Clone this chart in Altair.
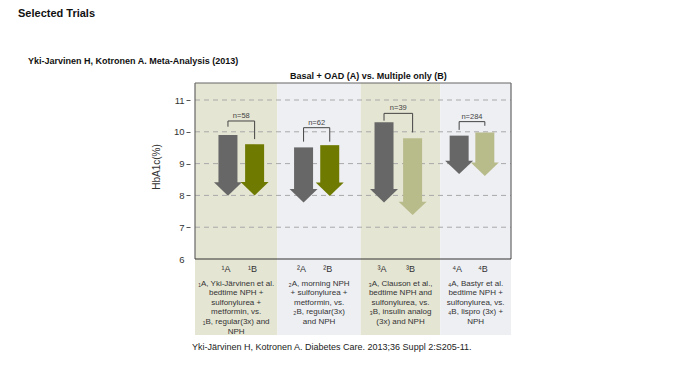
import altair as alt
import pandas as pd

# ---------------- data ----------------
panels = [1, 2, 3, 4]
a_labels = ["¹A", "²A", "³A", "⁴A"]
b_labels = ["¹B", "²B", "³B", "⁴B"]
a_start = [9.90, 9.51, 10.30, 9.88]
a_end = [7.99, 7.78, 7.78, 8.67]
b_start = [9.61, 9.58, 9.80, 9.98]
b_end = [8.00, 7.98, 7.38, 8.61]
b_shade = ["dark", "dark", "light", "light"]
n_values = [58, 62, 39, 284]
bracket_top = [10.34, 10.13, 10.58, 10.32]
bracket_a_end = [10.16, 9.69, 10.35, 10.06]
bracket_b_end = [9.77, 9.69, 9.98, 10.19]
descriptions = [
    "₁A, Yki-Järvinen et al.\nbedtime NPH +\nsulfonylurea +\nmetformin, vs.\n₁B, regular(3x) and\nNPH",
    "₂A, morning NPH\n+ sulfonylurea +\nmetformin, vs.\n₂B, regular(3x)\nand NPH",
    "₃A, Clauson et al.,\nbedtime NPH and\nsulfonylurea, vs.\n₃B, insulin analog\n(3x) and NPH",
    "₄A, Bastyr et al.\nbedtime NPH +\nsulfonylurea, vs.\n₄B, lispro (3x) +\nNPH",
]
y_ticks = [6, 7, 8, 9, 10, 11]
grid_values = [7, 8, 9, 10, 11]

# ---------------- layout ----------------
FONT = "Liberation Sans"
W, H = 326, 252
Y_MIN, Y_MAX = 3.61, 11.535
X_MAX = 326
panel_edges = [0, 85, 171, 253, 326]
a_x = [34, 112, 195, 272.5]
b_x = [61.5, 139, 224.5, 299]
bg_fill = ["#e5e5d3", "#eeeff3", "#e5e5d3", "#eeeff3"]

xs = alt.Scale(domain=[0, X_MAX], nice=False, zero=False)
ys = alt.Scale(domain=[Y_MIN, Y_MAX], nice=False, zero=False)
yaxis = alt.Axis(
    values=y_ticks, grid=False, domain=False, ticks=True, tickSize=4,
    tickColor="#555555", tickOpacity=alt.expr("datum.value == 6 ? 0 : 1"),
    labelFont=FONT, labelFontSize=9.5,
    labelColor="#333333", labelPadding=2, title=None)


def Y(field):
    return alt.Y(field, scale=ys, axis=yaxis)


def X(field):
    return alt.X(field, scale=xs, axis=None)


# backgrounds
bg_df = pd.DataFrame({
    "x0": panel_edges[:-1], "x1": panel_edges[1:],
    "y0": [Y_MIN] * 4, "y1": [Y_MAX] * 4, "fill": bg_fill,
})
bg = alt.Chart(bg_df).mark_rect().encode(
    x=X("x0:Q"), x2="x1:Q", y=Y("y0:Q"), y2="y1:Q",
    fill=alt.Fill("fill:N", scale=None),
)

# grid lines
grid_df = pd.DataFrame({"y": grid_values, "x0": [0] * 5, "x1": [X_MAX] * 5})
grid = alt.Chart(grid_df).mark_rule(color="#a9a9a9", strokeDash=[5, 4], strokeWidth=1).encode(
    x=X("x0:Q"), x2="x1:Q", y=Y("y:Q"),
)

# frame
frame_df = pd.DataFrame({
    "x0": [0, X_MAX, 0, 0], "x1": [0, X_MAX, X_MAX, X_MAX],
    "y0": [6, 6, Y_MAX, 6], "y1": [Y_MAX, Y_MAX, Y_MAX, 6],
    "c": ["#666666", "#666666", "#666666", "#333333"],
})
frame = alt.Chart(frame_df).mark_rule(strokeWidth=1.2).encode(
    x=X("x0:Q"), x2="x1:Q", y=Y("y0:Q"), y2="y1:Q",
    color=alt.Color("c:N", scale=None),
)

# arrows
arr_df = pd.DataFrame({
    "x": a_x + b_x,
    "start": a_start + b_start,
    "end": a_end + b_end,
    "kind": ["A"] * 4 + ["B-" + s for s in b_shade],
})
cscale = alt.Scale(domain=["A", "B-dark", "B-light"], range=["#676767", "#6f7a00", "#b8bb8a"])
shaft = alt.Chart(arr_df).mark_bar(width=19, y2Offset=-12).encode(
    x=X("x:Q"), y=Y("start:Q"), y2="end:Q",
    color=alt.Color("kind:N", scale=cscale, legend=None),
)
head = alt.Chart(arr_df).mark_point(
    shape="M-1,-0.96L1,-0.96L0,0Z", size=784, filled=True, opacity=1, strokeWidth=0
).encode(
    x=X("x:Q"), y=Y("end:Q"),
    color=alt.Color("kind:N", scale=cscale, legend=None),
)

# brackets
br_rows = []
for i in range(4):
    br_rows.append({"x0": a_x[i], "x1": b_x[i], "y0": bracket_top[i], "y1": bracket_top[i]})
    br_rows.append({"x0": a_x[i], "x1": a_x[i], "y0": bracket_a_end[i], "y1": bracket_top[i]})
    br_rows.append({"x0": b_x[i], "x1": b_x[i], "y0": bracket_b_end[i], "y1": bracket_top[i]})
br_df = pd.DataFrame(br_rows)
brackets = alt.Chart(br_df).mark_rule(color="#444444", strokeWidth=1).encode(
    x=X("x0:Q"), x2="x1:Q", y=Y("y0:Q"), y2="y1:Q",
)
n_df = pd.DataFrame({
    "x": [(a + b) / 2 for a, b in zip(a_x, b_x)],
    "y": bracket_top,
    "t": [f"n={n}" for n in n_values],
})
n_text = alt.Chart(n_df).mark_text(font=FONT, fontSize=7.5, color="#444444", baseline="bottom", dy=-1).encode(
    x=X("x:Q"), y=Y("y:Q"), text="t:N",
)

# category labels under the axis
lab_df = pd.DataFrame({"x": a_x + b_x, "y": [6] * 8, "t": a_labels + b_labels})
cat_text = alt.Chart(lab_df).mark_text(font=FONT, fontSize=9, color="#333333", baseline="middle", dy=10, dx=-2).encode(
    x=X("x:Q"), y=Y("y:Q"), text="t:N",
)

desc_df = pd.DataFrame({
    "x": [(panel_edges[i] + panel_edges[i + 1]) / 2 for i in range(4)],
    "y": [6] * 4,
    "t": descriptions,
})
desc_text = alt.Chart(desc_df).mark_text(
    font=FONT, fontSize=8, color="#333333", baseline="top", align="center",
    lineBreak="\n", lineHeight=9.6, dy=20.5
).encode(
    x=X("x:Q"), y=Y("y:Q"), text="t:N",
)


# titles / annotations
def label(txt, x, y, size, bold=False, align="left", angle=0, color="#111111"):
    return alt.Chart(pd.DataFrame({"t": [txt]})).mark_text(
        font=FONT, fontSize=size, fontWeight="bold" if bold else "normal",
        align=align, baseline="middle", angle=angle, color=color
    ).encode(x=alt.value(x), y=alt.value(y), text="t:N")


t1 = label("Selected Trials", -172, -69.3, 11, bold=True)
t2 = label("Yki-Jarvinen H, Kotronen A. Meta-Analysis (2013)", -162, -22.3, 9, bold=True)
t3 = label("Basal + OAD (A) vs. Multiple only (B)", 100, -7, 9, bold=True)
t4 = label("Yki-Järvinen H, Kotronen A. Diabetes Care. 2013;36 Suppl 2:S205-11.", 2, 263.7, 9, color="#222222")
ytitle = label("HbA1c(%)", -33, 84, 10, align="center", angle=270, color="#333333")

chart = alt.layer(
    bg, grid, frame, shaft, head, brackets, n_text, cat_text, desc_text,
    t1, t2, t3, t4, ytitle,
).properties(
    width=W, height=H,
    autosize=alt.AutoSizeParams(type="none"),
    padding={"left": 182, "top": 75, "right": 176, "bottom": 32},
    background="white",
).configure_view(stroke=None)

chart.save("out.html", embed_options={"renderer": "svg", "actions": False})
